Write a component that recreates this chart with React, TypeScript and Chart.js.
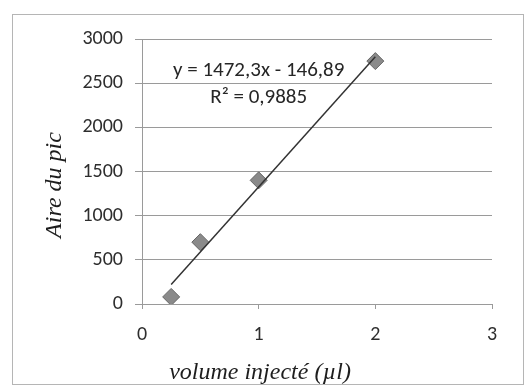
import React, { useEffect, useRef } from "react";
import { Chart, registerables } from "chart.js";

Chart.register(...registerables);

// ---- data ----
const volumes = [0.25, 0.5, 1, 2];
const areas = [80, 700, 1400, 2750];
const trendSlope = 1472.3;
const trendIntercept = -146.89;
const equationLines = ["y = 1472,3x - 146,89", "R² = 0,9885"];
const xTitle = "volume injecté (µl)";
const yTitle = "Aire du pic";
const xRange = [0, 3];
const yRange = [0, 3000];

const TICK_FONT = "Carlito, 'Open Sans', sans-serif";
const TITLE_FONT = "'Liberation Serif', 'DejaVu Serif', serif";

const overlayPlugin = {
  id: "overlayText",
  afterDraw(chart: any, _args: any, opts: any) {
    const { ctx, scales } = chart;
    ctx.save();
    // equation label
    ctx.fillStyle = "#262626";
    ctx.font = `21px ${TICK_FONT}`;
    ctx.textAlign = "center";
    ctx.textBaseline = "middle";
    const ex = scales.x.getPixelForValue(opts.eqX);
    let ey = scales.y.getPixelForValue(opts.eqY);
    for (const line of equationLines) {
      ctx.fillText(line, ex, ey);
      ey += opts.eqLineGap;
    }
    // axis titles
    ctx.fillStyle = "#1e1e1e";
    ctx.font = `italic 24px ${TITLE_FONT}`;
    ctx.fillText(xTitle, opts.xTitleX, opts.xTitleY);
    ctx.translate(opts.yTitleX, opts.yTitleY);
    ctx.rotate(-Math.PI / 2);
    ctx.fillText(yTitle, 0, 0);
    ctx.restore();
  },
};

export default function App() {
  const ref = useRef<HTMLCanvasElement | null>(null);

  useEffect(() => {
    if (!ref.current) return;
    const xMin = Math.min(...volumes);
    const xMax = Math.max(...volumes);
    const trend = [xMin, xMax].map((x) => ({ x, y: trendSlope * x + trendIntercept }));
    const gridColor = "#9a9a9a";
    const chart = new Chart(ref.current, {
      type: "scatter",
      data: {
        datasets: [
          {
            type: "line",
            data: trend,
            borderColor: "#333333",
            borderWidth: 1.5,
            pointRadius: 0,
            fill: false,
          } as any,
          {
            data: volumes.map((x, i) => ({ x, y: areas[i] })),
            pointStyle: "rectRot",
            pointRadius: 8.5,
            backgroundColor: "#8a8a8a",
            borderColor: "#666666",
            borderWidth: 1,
          },
        ],
      },
      options: {
        responsive: false,
        animation: false,
        layout: { padding: { left: 12, top: 39, right: 38, bottom: 0 } },
        plugins: {
          legend: { display: false },
          tooltip: { enabled: false },
          overlayText: {
            eqX: 1,
            eqY: 2640,
            eqLineGap: 27,
            xTitleX: 260,
            xTitleY: 373,
            yTitleX: 55,
            yTitleY: 185,
          },
        } as any,
        scales: {
          x: {
            type: "linear",
            min: xRange[0],
            max: xRange[1],
            afterFit: (s: any) => {
              s.height = 84;
            },
            ticks: {
              stepSize: 1,
              padding: 14,
              color: "#2e2e2e",
              font: { family: TICK_FONT, size: 20 },
              callback: (v: any) => String(v),
            },
            grid: { drawOnChartArea: false, tickLength: 5, color: gridColor },
            border: { color: gridColor },
          },
          y: {
            min: yRange[0],
            max: yRange[1],
            afterFit: (s: any) => {
              s.width = 130;
            },
            ticks: {
              stepSize: 500,
              padding: 12,
              color: "#2e2e2e",
              font: { family: TICK_FONT, size: 20 },
              callback: (v: any) => String(v),
            },
            grid: { tickLength: 7, color: gridColor },
            border: { color: gridColor },
          },
        },
      },
      plugins: [overlayPlugin],
    });
    return () => chart.destroy();
  }, []);

  return (
    <div style={{ position: "fixed", left: 0, top: 0, width: 530, height: 388, background: "#ffffff" }}>
      <div
        style={{
          position: "absolute",
          left: 12,
          top: 14,
          width: 512,
          height: 371,
          border: "1px solid #b5b5b5",
          boxSizing: "border-box",
        }}
      />
      <canvas ref={ref} width={530} height={388} style={{ position: "absolute", left: 0, top: 0 }} />
    </div>
  );
}
